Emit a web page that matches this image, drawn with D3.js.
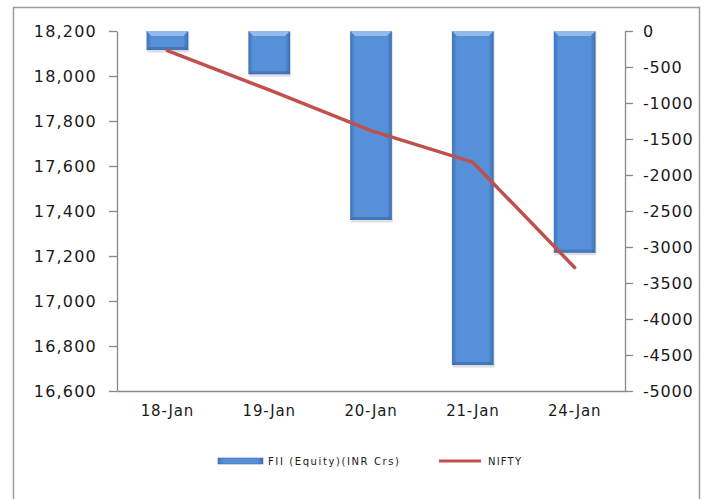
<!DOCTYPE html>
<html>
<head>
<meta charset="utf-8">
<script src="https://cdn.jsdelivr.net/npm/d3@7"></script>
<style>
  body { margin: 0; background: #fff; }
  text { font-family: "DejaVu Sans", sans-serif; fill: #1a1a1a; }
</style>
</head>
<body>
<svg id="chart" width="704" height="499"></svg>
<script>
const dates = ["18-Jan", "19-Jan", "20-Jan", "21-Jan", "24-Jan"];
const fii = [-265, -600, -2625, -4640, -3080];
const nifty = [18113, 17938, 17757, 17617, 17149];
const leftTicks = [16600, 16800, 17000, 17200, 17400, 17600, 17800, 18000, 18200];
const rightTicks = [0, -500, -1000, -1500, -2000, -2500, -3000, -3500, -4000, -4500, -5000];

const svg = d3.select("#chart");
const plotLeft = 117, plotRight = 625, plotTop = 31, plotBottom = 391;
const axisColor = "#888";

// frame
svg.append("rect")
  .attr("x", 13.5).attr("y", 7.5)
  .attr("width", 686).attr("height", 500)
  .attr("fill", "none").attr("stroke", "#9a9a9a").attr("stroke-width", 1.5);

const defs = svg.append("defs");
const grad = defs.append("linearGradient").attr("id", "barGrad")
  .attr("x1", 0).attr("x2", 1).attr("y1", 0).attr("y2", 0);
grad.append("stop").attr("offset", "0%").attr("stop-color", "#3f74b8");
grad.append("stop").attr("offset", "12%").attr("stop-color", "#5690d8");
grad.append("stop").attr("offset", "88%").attr("stop-color", "#5690d8");
grad.append("stop").attr("offset", "100%").attr("stop-color", "#3c6fb0");

const x = d3.scaleBand().domain(dates).range([plotLeft, plotRight]).paddingInner(0.59).paddingOuter(0.29);
const xc = d => x(d) + x.bandwidth() / 2;
const yL = d3.scaleLinear().domain([16600, 18200]).range([plotBottom, plotTop]);
const yR = d3.scaleLinear().domain([-5000, 0]).range([plotBottom, plotTop]);

// bars
const bars = svg.append("g");
dates.forEach((d, i) => {
  const x0 = x(d), w = x.bandwidth();
  const y0 = yR(0), y1 = yR(fii[i]);
  // shadow
  bars.append("rect").attr("x", x0 + 1).attr("y", y0 + 1).attr("width", w).attr("height", y1 - y0 + 1.5)
    .attr("fill", "#000").attr("opacity", 0.12);
  bars.append("rect").attr("x", x0).attr("y", y0).attr("width", w).attr("height", y1 - y0)
    .attr("fill", "url(#barGrad)");
  // top bevel highlight
  bars.append("path")
    .attr("d", `M${x0},${y0}L${x0 + w},${y0}L${x0 + w - 5},${y0 + 5}L${x0 + 5},${y0 + 5}Z`)
    .attr("fill", "#8fbbef");
  // bottom bevel shade
  bars.append("path")
    .attr("d", `M${x0},${y1}L${x0 + w},${y1}L${x0 + w - 3},${y1 - 3}L${x0 + 3},${y1 - 3}Z`)
    .attr("fill", "#3a69a6").attr("opacity", 0.6);
});

// axes
const gL = svg.append("g").attr("transform", `translate(${plotLeft},0)`)
  .call(d3.axisLeft(yL).tickValues(leftTicks).tickFormat(d3.format(",")).tickSize(8).tickSizeOuter(0));
const gR = svg.append("g").attr("transform", `translate(${plotRight},0)`)
  .call(d3.axisRight(yR).tickValues(rightTicks).tickFormat(d => d).tickSize(8).tickSizeOuter(0));
const gB = svg.append("g").attr("transform", `translate(0,${plotBottom})`)
  .call(d3.axisBottom(x).tickSize(0));
[gL, gR, gB].forEach(g => {
  g.selectAll("path, line").attr("stroke", axisColor).attr("stroke-width", 1.3);
  g.selectAll("text").attr("font-size", 16).attr("fill", "#1a1a1a")
    .attr("font-family", "'DejaVu Sans', sans-serif")
    .attr("letter-spacing", 1.2);
});
gL.selectAll("text").attr("x", -20);
gR.selectAll("text").attr("x", 18).attr("letter-spacing", 0.8);
gB.selectAll("text").attr("dy", "1.45em").attr("font-size", 15).attr("letter-spacing", 0.8);

// nifty line
svg.append("path")
  .datum(nifty)
  .attr("fill", "none")
  .attr("stroke", "#c0504d")
  .attr("stroke-width", 3.5)
  .attr("stroke-linecap", "round")
  .attr("d", d3.line().x((d, i) => xc(dates[i])).y(d => yL(d)));

// legend
const lg = svg.append("g").attr("font-size", 10);
lg.append("rect").attr("x", 218).attr("y", 458).attr("width", 45).attr("height", 6)
  .attr("fill", "url(#barGrad)").attr("stroke", "#3c6fb0").attr("stroke-width", 0.6);
lg.append("text").attr("x", 268).attr("y", 465).attr("letter-spacing", 1.6).text("FII (Equity)(INR Crs)");
lg.append("line").attr("x1", 439).attr("x2", 481).attr("y1", 461).attr("y2", 461)
  .attr("stroke", "#c0504d").attr("stroke-width", 3);
lg.append("text").attr("x", 488).attr("y", 465).attr("letter-spacing", 1.2).text("NIFTY");
</script>
</body>
</html>
